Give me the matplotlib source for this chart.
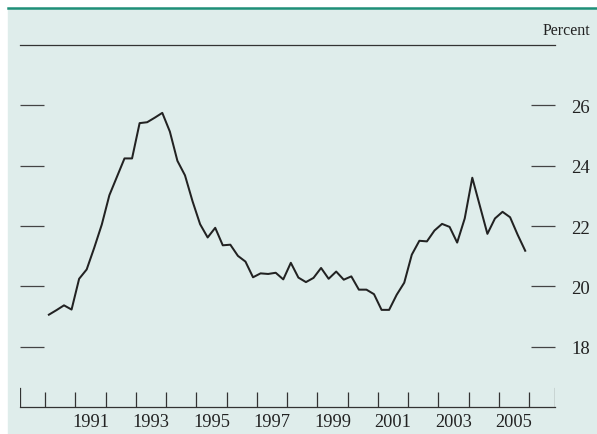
import matplotlib

matplotlib.use('Agg')

import matplotlib.pyplot as plt
from matplotlib.lines import Line2D
from matplotlib.patches import Rectangle

# quarterly values, 1990Q1 .. 2005Q4
start_year = 1990
values = [
    19.06, 19.21, 19.37, 19.23, 20.25, 20.56, 21.28, 22.05,
    23.02, 23.63, 24.24, 24.24, 25.41, 25.44, 25.59, 25.75,
    25.13, 24.16, 23.68, 22.82, 22.06, 21.62, 21.94, 21.36,
    21.38, 21.01, 20.82, 20.30, 20.43, 20.41, 20.45, 20.23,
    20.78, 20.29, 20.14, 20.28, 20.61, 20.25, 20.49, 20.22,
    20.33, 19.89, 19.89, 19.74, 19.22, 19.22, 19.72, 20.12,
    21.05, 21.51, 21.49, 21.85, 22.07, 21.97, 21.45, 22.25,
    23.60, 22.67, 21.74, 22.25, 22.47, 22.29, 21.71, 21.18,
]
year_ticks = list(range(1990, 2007))
year_labels = [str(y) for y in range(1991, 2006, 2)]
y_ticks = [18, 20, 22, 24, 26]

bg = '#dfedeb'
teal = '#1f8f78'
ink = '#222222'

plt.rcParams['font.family'] = ['Liberation Serif', 'DejaVu Serif']

W, H = 597, 435
fig = plt.figure(figsize=(W / 100, H / 100), dpi=100)
fig.patch.set_facecolor('white')
fig.patches.append(Rectangle((8 / W, 0), 1 - 8 / W, (H - 10) / H,
                             transform=fig.transFigure, color=bg, zorder=-10))
fig.lines.append(Line2D([8 / W, 1], [(H - 9) / H] * 2, transform=fig.transFigure,
                        color=teal, lw=1.8, zorder=-5))

ax = fig.add_axes([20 / W, (H - 408) / H, 535 / W, 362 / H])
ax.set_facecolor('none')

x = [start_year + 0.125 + 0.25 * i for i in range(len(values))]
ax.plot(x, values, color=ink, lw=1.45)

ax.set_xlim(1989.17, 2006.86)
ax.set_ylim(16, 28)

for side in ['left', 'right']:
    ax.spines[side].set_visible(False)
for side in ['top', 'bottom']:
    ax.spines[side].set_color('#333333')
    ax.spines[side].set_linewidth(0.9)

# x axis: year boundaries as ticks, odd-year labels centred in the year
ax.set_xticks(year_ticks)
ax.set_xticklabels([])
ax.tick_params(axis='x', which='major', direction='in', length=10.8, width=0.9,
               color='#333333', top=False)
ax.set_xticks([int(l) + 0.5 for l in year_labels], minor=True)
ax.set_xticklabels(year_labels, minor=True)
ax.tick_params(axis='x', which='minor', length=0, pad=4.5, labelsize=13.2,
               labelcolor=ink, top=False)

# taller end ticks
for xe in ax.get_xlim():
    ax.axvline(xe, ymin=0, ymax=19 / 362, color='#333333', lw=0.9)

ax.set_yticks(y_ticks)
ax.yaxis.set_ticks_position('both')
ax.tick_params(axis='y', direction='in', length=17, width=0.9, color='#444444',
               labelleft=False, labelright=True, pad=11.5, labelsize=13.5,
               labelcolor=ink)

fig.text(590 / W, (H - 31) / H, 'Percent', ha='right', va='center',
         fontsize=11.5, color=ink)

fig.savefig('out.png', dpi=100)
